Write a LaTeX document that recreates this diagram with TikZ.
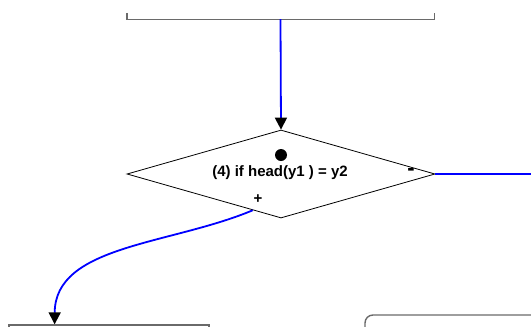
\documentclass[tikz,border=0pt]{standalone}
\usepackage{fontspec}
\setmainfont{Liberation Sans}
\usetikzlibrary{shapes.geometric,arrows.meta,calc}
\definecolor{boxgray}{HTML}{6A6A6A}
\begin{document}
\begin{tikzpicture}[x=1pt,y=-1pt,
  boxline/.style={draw=boxgray,line width=1.4pt,inner sep=0pt},
  flow/.style={draw=blue,line width=1.8pt,-{Triangle[width=12pt,length=12pt,fill=black,color=black]}},
  plainflow/.style={draw=blue,line width=1.8pt},
  lbl/.style={font=\fontsize{15}{17}\selectfont\bfseries,inner sep=0pt}]
\useasboundingbox (0,0) rectangle (531,327);
\clip (0,0) rectangle (531,327);
\node (topbox) [inner sep=0pt,minimum width=307pt,minimum height=6pt] at (280.5,16) {};
\draw[boxgray,line width=1.4pt] (topbox.north west) -- (topbox.south west) -- (topbox.south east) -- (topbox.north east);
\node (d) [diamond,draw=black,line width=0.8pt,inner sep=0pt,minimum width=308pt,minimum height=88pt] at (281,174) {};
\node (dot) [circle,fill=black,inner sep=0pt,minimum size=12pt] at (281,155) {};
\node (cond) [lbl] at (280,173) {(4) if head(y1 ) = y2};
\node (minus) [lbl,font=\fontsize{22}{24}\selectfont\bfseries] at (411,172) {-};
\node (plus) [lbl] at (258,199) {+};
\node (lbox) [boxline,minimum width=200pt,minimum height=30pt] at (109,340) {};
\node (rbox) [boxline,rounded corners=8pt,minimum width=200pt,minimum height=40pt] at (465,335) {};
\coordinate (dout) at ($(d.west)!0.817!(d.south)$);
\coordinate (ltarget) at ($(lbox.north west)!0.23!(lbox.north east)$);
\coordinate (rend) at (535,174);
\draw[flow] (topbox.south) -- (d.north);
\draw[plainflow] (d.east) -- (rend);
\draw[flow] (dout) .. controls (170,245) and (55,245) .. (ltarget);
\end{tikzpicture}
\end{document}
